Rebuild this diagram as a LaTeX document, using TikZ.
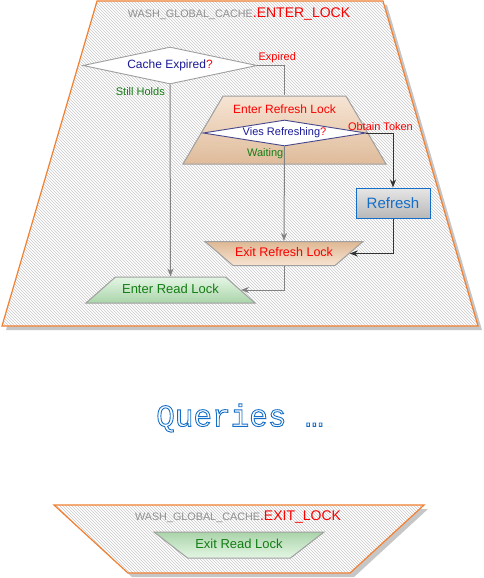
\documentclass[tikz,border=0pt]{standalone}
\usepackage{fontspec}
\setmainfont{Liberation Sans}
\newfontfamily\queryfont{Liberation Mono}
\usetikzlibrary{shapes.geometric}
\usetikzlibrary{arrows.meta}
\usetikzlibrary{patterns}
\usetikzlibrary{shadows}
\usetikzlibrary{positioning}
\definecolor{zoneorange}{RGB}{242,128,48}
\definecolor{titlegray}{RGB}{145,145,145}
\definecolor{lockred}{RGB}{250,0,0}
\definecolor{askblue}{RGB}{25,25,150}
\definecolor{holdgreen}{RGB}{20,125,20}
\definecolor{refreshblue}{RGB}{20,110,200}
\definecolor{peachlight}{RGB}{248,228,210}
\definecolor{peachdark}{RGB}{222,184,148}
\definecolor{readlight}{RGB}{228,246,228}
\definecolor{readdark}{RGB}{170,212,170}
\definecolor{linegray}{RGB}{130,130,130}
\newcommand\outlinetext[1]{\special{pdf:literal direct 1 Tr 0.9 w}#1\special{pdf:literal direct 0 Tr}}

\begin{document}
\begin{tikzpicture}[x=1pt, y=-1pt,
    zone/.style={trapezium, trapezium stretches body, inner xsep=0pt, text height=8pt, text depth=2pt,
        draw=zoneorange, line width=1.2pt,
        drop shadow={shadow xshift=4pt, shadow yshift=-4pt, fill=gray!45, opacity=1},
        preaction={fill=white}, pattern=north west lines, pattern color=gray!42},
    lockbox/.style={trapezium, trapezium stretches body, inner xsep=0pt, text height=8pt, text depth=2pt,
        draw=gray!75, line width=1pt, font=\fontsize{13}{15}\selectfont},
    decision/.style={diamond, inner sep=0pt, fill=white, draw=gray!75, line width=0.9pt,
        font=\fontsize{12}{14}\selectfont},
    flowlabel/.style={inner sep=0pt, font=\fontsize{11}{13}\selectfont},
    zonetitle/.style={inner sep=0pt, text=titlegray, font=\fontsize{10.8}{13}\selectfont},
    flow/.style={draw=linegray, line width=1pt, -{Stealth[length=8pt, width=6pt, inset=2.5pt]}},
    darkflow/.style={flow, draw=black!80}]
    \useasboundingbox (0,0) rectangle (483,578);

    % enter lock zone
    \node[zone, minimum width=476pt, inner ysep=157.5pt, trapezium angle=73.7] (enterlock) at (240,163.5) {};
    \node[zonetitle] (entertitle) at (239,14) {WASH\_GLOBAL\_CACHE\textcolor{lockred}{\fontsize{14}{15}\selectfont.ENTER\_LOCK}};

    \node[decision, minimum width=174pt, minimum height=37pt, aspect=4.7] (cacheexp) at (170,65.5) {\textcolor{askblue}{Cache Expired}\textcolor{lockred}{?}};

    \node[lockbox, fill opacity=0.92, top color=peachlight, bottom color=peachdark, minimum width=203pt, inner ysep=29pt, trapezium angle=59.5] (enterrefresh) at (284.5,130) {};
    \draw[draw=linegray, line width=1pt] (cacheexp.east) -| (enterrefresh.north);
    \node[flowlabel, text=lockred, font=\fontsize{12}{14}\selectfont] (enterrefreshtext) [below=9.5pt of enterrefresh.north] {Enter Refresh Lock};
    \node[decision, draw=askblue!55!gray, font=\fontsize{11}{13}\selectfont, minimum width=163pt, minimum height=26pt, aspect=6.3] (viesref) at (284.5,133) {\textcolor{askblue}{Vies Refreshing}\textcolor{lockred}{?}};

    \node[draw=refreshblue, line width=1pt, top color=gray!20, middle color=white, bottom color=gray!55, text=refreshblue, font=\fontsize{15}{17}\selectfont, minimum width=74pt, minimum height=30pt] (refresh) at (393,203) {Refresh};

    \node[lockbox, top color=peachdark, bottom color=peachlight, text=lockred, font=\fontsize{12.5}{14}\selectfont, minimum width=158pt, inner ysep=7pt, trapezium angle=139.4] (exitrefresh) at (284,253.5) {Exit Refresh Lock};
    \node[lockbox, top color=readlight, bottom color=readdark, text=holdgreen, minimum width=169pt, inner ysep=8pt, trapezium angle=41.4] (enterread) at (170.5,290) {Enter Read Lock};

    \node[flowlabel, text=lockred] (expiredlbl) [above right=3pt and 1pt of cacheexp.east] {Expired};
    \node[flowlabel, text=holdgreen] (holdslbl) [below left=3pt and 5pt of cacheexp.south] {Still Holds};
    \node[flowlabel, text=lockred] (tokenlbl) [above=2pt of viesref.east, xshift=14pt] {Obtain Token};
    \node[flowlabel, text=holdgreen] (waitlbl) [below left=2pt and 1pt of viesref.south] {Waiting};

    \draw[flow] (cacheexp.south) -- (enterread.north);
    \draw[flow] (viesref.south) -- (exitrefresh.north);
    \draw[darkflow] (viesref.east) -| (refresh.north);
    \draw[darkflow] (refresh.south) |- (exitrefresh.east);
    \draw[flow] (exitrefresh.south) |- (enterread.east);

    % queries
    \node[text=refreshblue, font=\queryfont\fontsize{31}{33}\selectfont] (queries) at (240,418) {\outlinetext{Queries …}};

    % exit lock zone
    \node[zone, minimum width=370pt, inner ysep=29pt, trapezium angle=137.4] (exitlock) at (239,539) {};
    \node[zonetitle] (exittitle) at (238,517) {WASH\_GLOBAL\_CACHE\textcolor{lockred}{\fontsize{14}{15}\selectfont.EXIT\_LOCK}};
    \node[lockbox, top color=readdark, bottom color=readlight, text=holdgreen, minimum width=170pt, inner ysep=8pt, trapezium angle=142.2] (exitread) at (239,545) {Exit Read Lock};
\end{tikzpicture}
\end{document}
